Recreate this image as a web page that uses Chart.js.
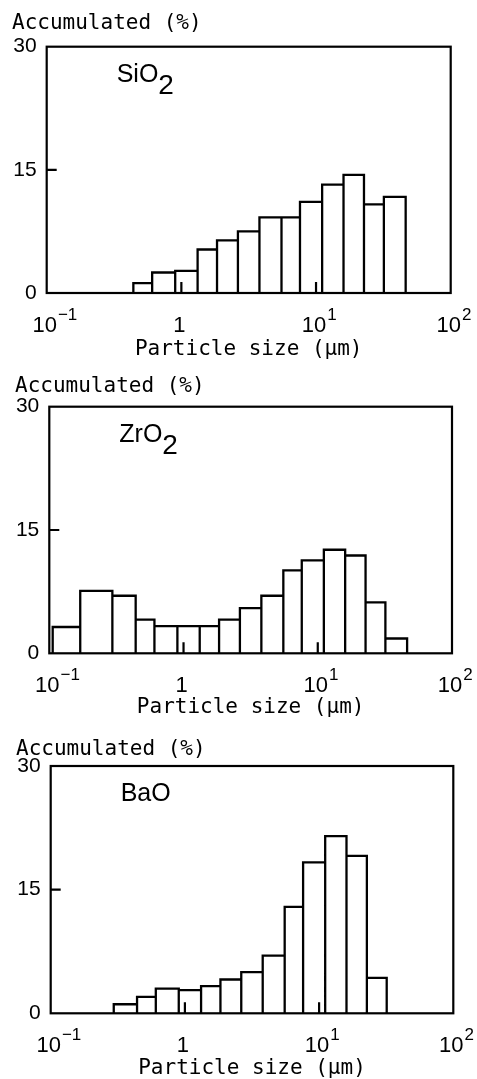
<!DOCTYPE html>
<html>
<head>
<meta charset="utf-8">
<script src="https://cdn.jsdelivr.net/npm/chart.js@4.4.0/dist/chart.umd.min.js"></script>
<style>
  html, body { margin: 0; padding: 0; background: #fff; }
  body { width: 477px; height: 1079px; position: relative; overflow: hidden; }
  .panel { position: absolute; left: 0; width: 477px; }
</style>
</head>
<body>
<div class="panel" style="top:0;height:363px"><canvas id="c1"></canvas></div>
<div class="panel" style="top:363px;height:360px"><canvas id="c2"></canvas></div>
<div class="panel" style="top:723px;height:356px"><canvas id="c3"></canvas></div>
<script>
// bin edges in µm, same for all three histograms
const binEdges = [0.106, 0.17, 0.295, 0.44, 0.607, 0.9, 1.32, 1.84, 2.63, 3.8, 5.54, 7.6, 11.1, 16.0, 22.7, 31.9, 46.3];
const sio2 = [0, 0, 0, 1.2, 2.5, 2.7, 5.3, 6.4, 7.5, 9.2, 9.2, 11.1, 13.2, 14.4, 10.8, 11.7];
const zro2 = [3.2, 7.6, 7.0, 4.1, 3.3, 3.3, 3.3, 4.1, 5.5, 7.0, 10.1, 11.3, 12.6, 11.9, 6.2, 1.8];
const bao = [0, 0, 1.1, 2.0, 3.0, 2.8, 3.3, 4.1, 5.0, 7.0, 12.9, 18.3, 21.5, 19.1, 4.3, 0];

const xTicks = [0.1, 1, 10, 100];
const xTickBase = ['10', '1', '10', '10'];
const xTickExp = ['\u22121', '', '1', '2'];
const innerXTicks = [1, 10];
const innerYTicks = [15];

// bar outlines: each bin goes baseline -> top -> top -> baseline
function outline(vals) {
    let pts = []
    vals.forEach((v, i) => {
        if (!v) return
        pts.push({x: binEdges[i], y: 0}, {x: binEdges[i], y: v},
                 {x: binEdges[i + 1], y: v}, {x: binEdges[i + 1], y: 0})
    })
    return pts
}

const framePlugin = {
    id: 'frame',
    afterDatasetsDraw(chart, args, opts) {
        const {ctx, chartArea: a, scales: {x, y}} = chart
        ctx.save()
        ctx.strokeStyle = '#000'
        ctx.lineWidth = 2.2
        ctx.strokeRect(a.left, a.top, a.right - a.left, a.bottom - a.top)
        ctx.beginPath()
        innerXTicks.forEach(v => {
            const px = x.getPixelForValue(v)
            ctx.moveTo(px, a.bottom)
            ctx.lineTo(px, a.bottom - 11)
        })
        innerYTicks.forEach(v => {
            const py = y.getPixelForValue(v)
            ctx.moveTo(a.left, py)
            ctx.lineTo(a.left + 10, py)
        })
        ctx.stroke()

        // x tick labels with superscript exponents
        ctx.fillStyle = '#000'
        ctx.textBaseline = 'alphabetic'
        xTicks.forEach((v, i) => {
            const px = x.getPixelForValue(v)
            ctx.font = '22px "Liberation Sans"'
            ctx.textAlign = 'center'
            ctx.fillText(xTickBase[i], px - 2, a.bottom + 39)
            if (xTickExp[i]) {
                const w = ctx.measureText(xTickBase[i]).width
                ctx.font = '17px "Liberation Sans"'
                ctx.textAlign = 'left'
                ctx.fillText(xTickExp[i], px - 2 + w / 2 + 1, a.bottom + 27)
            }
        })

        // compound name inside the box
        ctx.font = '25px "Liberation Sans"'
        ctx.textAlign = 'left'
        ctx.fillText(opts.name, a.left + 70, a.top + 35)
        if (opts.sub) {
            const w = ctx.measureText(opts.name).width
            ctx.font = '28px "Liberation Sans"'
            ctx.fillText(opts.sub, a.left + 70 + w, a.top + 47)
        }
        ctx.restore()
    }
}

function makePanel(id, name, sub, vals, g) {
    return new Chart(document.getElementById(id), {
        type: 'line',
        data: {
            datasets: [{
                data: outline(vals),
                borderColor: '#000',
                borderWidth: 2.3,
                pointRadius: 0,
                tension: 0,
                fill: false
            }]
        },
        options: {
            responsive: true,
            maintainAspectRatio: false,
            animation: false,
            layout: { padding: { left: g.left, right: g.right, top: 0, bottom: 0 } },
            plugins: {
                legend: { display: false },
                tooltip: { enabled: false },
                title: {
                    display: true,
                    text: 'Accumulated (%)',
                    align: 'start',
                    color: '#000',
                    font: { family: 'DejaVu Sans Mono', size: 21, weight: 'normal', lineHeight: 1.2 },
                    padding: { top: g.titleTop, bottom: g.titleBottom }
                },
                frame: { name: name, sub: sub }
            },
            scales: {
                x: {
                    type: 'logarithmic',
                    min: 0.1,
                    max: 100,
                    grid: { display: false, drawTicks: false },
                    border: { display: false },
                    ticks: { display: false },
                    afterBuildTicks: s => { s.ticks = xTicks.map(v => ({value: v})) },
                    afterFit: s => { s.height = g.xHeight },
                    title: {
                        display: true,
                        text: 'Particle size (\u00b5m)',
                        color: '#000',
                        font: { family: 'DejaVu Sans Mono', size: 21, lineHeight: 0.8 },
                        padding: { top: 0, bottom: g.xTitleBottom }
                    }
                },
                y: {
                    min: 0,
                    max: 30,
                    grid: { display: false, drawTicks: false },
                    border: { display: false },
                    ticks: {
                        stepSize: 15,
                        padding: 10,
                        color: '#000',
                        font: { family: 'Liberation Sans', size: 21 }
                    },
                    afterFit: s => { s.width = g.yWidth }
                }
            }
        },
        plugins: [framePlugin]
    })
}

makePanel('c1', 'SiO', '2', sio2,
    { left: 12, right: 26.3, yWidth: 34.7, titleTop: 11.1, titleBottom: 10.4, xHeight: 70, xTitleBottom: 4.6 })
makePanel('c2', 'ZrO', '2', zro2,
    { left: 15, right: 25, yWidth: 34.3, titleTop: 10.7, titleBottom: 7.8, xHeight: 69.7, xTitleBottom: 6.6 })
makePanel('c3', 'BaO', '', bao,
    { left: 16, right: 23.7, yWidth: 34.7, titleTop: 14.1, titleBottom: 3.7, xHeight: 65.7, xTitleBottom: 1.6 })
</script>
</body>
</html>
